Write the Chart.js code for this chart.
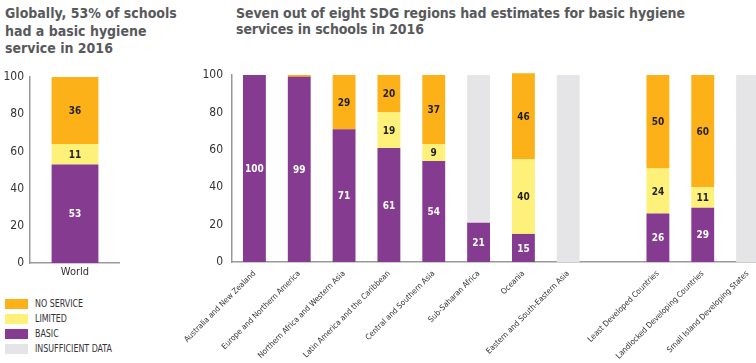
<!DOCTYPE html>
<html lang="en">
<head>
<meta charset="UTF-8">
<title>Basic hygiene services in schools, 2016</title>
<script src="https://cdn.jsdelivr.net/npm/chart.js"></script>
<style>
    html, body {
        margin: 0;
        padding: 0;
        background: #fff;
        overflow: hidden;
        width: 756px;
        height: 363px;
    }
    body {
        position: relative;
        font-family: 'DejaVu Sans Condensed', 'Liberation Sans Narrow', sans-serif;
    }
    .titulo {
        position: absolute;
        color: #58595b;
        font-weight: 700;
        font-size: 14px;
        margin: 0;
        white-space: nowrap;
    }
    #tituloEsq { left: 5px; top: 5px; line-height: 17.5px; }
    #tituloDir { left: 236px; top: 5px; line-height: 16px; letter-spacing: -0.1px; }
    .box { position: absolute; }
    #boxMundo { left: 0; top: 60px; width: 120px; height: 225px; }
    #boxRegioes { left: 180px; top: 58px; width: 590px; height: 305px; }
    .legenda {
        position: absolute;
        left: 5px;
        top: 296px;
        font-size: 11px;
        color: #333;
    }
    .legenda div { height: 15px; display: flex; align-items: center; white-space: nowrap; }
    .legenda span.cor { width: 23px; height: 10px; margin-right: 7px; display: inline-block; }
    .legenda span.txt { display: inline-block; transform: scaleX(0.8); transform-origin: left center; }
</style>
</head>
<body>
<h2 class="titulo" id="tituloEsq">Globally, 53% of schools<br>had a basic hygiene<br>service in 2016</h2>
<h2 class="titulo" id="tituloDir">Seven out of eight SDG regions had estimates for basic hygiene<br>services in schools in 2016</h2>

<div class="box" id="boxMundo"><canvas id="graficoMundo"></canvas></div>
<div class="box" id="boxRegioes"><canvas id="graficoRegioes"></canvas></div>
<div class="legenda" id="legenda"></div>

<script>
    const FONTE = "'DejaVu Sans Condensed', 'Liberation Sans Narrow', sans-serif";

    // series names and colours
    const series = ['NO SERVICE', 'LIMITED', 'BASIC', 'INSUFFICIENT DATA'];
    const cores = ['#fbb117', '#fdf17a', '#843b90', '#e5e5e7'];

    // world
    const mundoLabels = ['World'];
    const mundoBasic = [53];
    const mundoLimited = [11];
    const mundoNoService = [36];

    // regions ('' is the gap between regions and country groups)
    const regioes = [
        'Australia and New Zealand', 'Europe and Northern America', 'Northern Africa and Western Asia',
        'Latin America and the Caribbean', 'Central and Southern Asia', 'Sub-Saharan Africa', 'Oceania',
        'Eastern and South-Eastern Asia', '', 'Least Developed Countries', 'Landlocked Developing Countries',
        'Small Island Developing States'
    ];
    const basic = [100, 99, 71, 61, 54, 21, 15, null, null, 26, 29, null];
    const limited = [null, null, null, 19, 9, null, 40, null, null, 24, 11, null];
    const noService = [null, 1, 29, 20, 37, null, 46, null, null, 50, 60, null];
    const insuficiente = [null, null, null, null, null, 79, null, 100, null, null, null, 100];

    const yTicks = [0, 20, 40, 60, 80, 100];

    // writes values in the middle of each segment
    const rotulosPlugin = {
        id: 'rotulos',
        afterDatasetsDraw(chart) {
            const ctx = chart.ctx;
            ctx.save();
            ctx.font = "bold 10px " + FONTE;
            ctx.textAlign = 'center';
            ctx.textBaseline = 'middle';
            chart.data.datasets.forEach((ds, i) => {
                if (ds.semRotulo) return;
                const meta = chart.getDatasetMeta(i);
                meta.data.forEach((bar, j) => {
                    const v = ds.data[j];
                    if (v == null || v < 5) return;
                    const p = bar.getProps(['x', 'y', 'base'], true);
                    ctx.fillStyle = ds.corTexto;
                    ctx.fillText(String(v), p.x, (p.y + p.base) / 2 + 1);
                });
            });
            ctx.restore();
        }
    };

    function montarDatasets(b, l, n, ins) {
        const arr = [
            { label: 'BASIC', data: b, backgroundColor: cores[2], corTexto: '#ffffff' },
            { label: 'LIMITED', data: l, backgroundColor: cores[1], corTexto: '#231f20' },
            { label: 'NO SERVICE', data: n, backgroundColor: cores[0], corTexto: '#231f20' }
        ];
        if (ins) arr.push({ label: 'INSUFFICIENT DATA', data: ins, backgroundColor: cores[3], semRotulo: true });
        arr.forEach(d => { d.borderWidth = 0; d.clip = false; });
        return arr;
    }

    function criarGrafico(id, labels, datasets, cfg) {
        return new Chart(document.getElementById(id), {
            type: 'bar',
            data: { labels: labels, datasets: datasets },
            options: {
                responsive: true,
                maintainAspectRatio: false,
                animation: false,
                categoryPercentage: cfg.catPct,
                barPercentage: 1,
                layout: { padding: { top: 17, right: 0, left: 0, bottom: 0 } },
                plugins: { legend: { display: false }, tooltip: { enabled: false } },
                scales: {
                    x: {
                        stacked: true,
                        grid: { display: false, drawTicks: false },
                        border: { color: '#999', width: 1.5 },
                        ticks: {
                            autoSkip: false,
                            maxRotation: cfg.rot, minRotation: cfg.rot,
                            color: '#333',
                            padding: cfg.xPad,
                            font: { family: FONTE, size: cfg.xFont }
                        },
                        afterFit(scale) {
                            scale.height = cfg.xAltura;
                            scale.paddingLeft = 0;
                            scale.paddingRight = 0;
                        }
                    },
                    y: {
                        stacked: true,
                        min: 0, max: 100,
                        grid: { display: false, drawTicks: false },
                        border: { color: '#999', width: 1.5 },
                        afterBuildTicks(scale) { scale.ticks = yTicks.map(v => ({ value: v })); },
                        ticks: { color: '#333', padding: cfg.yPad, font: { family: FONTE, size: 12 } },
                        afterFit(scale) { scale.width = cfg.yLargura; }
                    }
                }
            },
            plugins: [rotulosPlugin]
        });
    }

    criarGrafico('graficoMundo', mundoLabels, montarDatasets(mundoBasic, mundoLimited, mundoNoService), {
        catPct: 0.52, rot: 0, xPad: 3, xFont: 11, xAltura: 22, yPad: 6, yLargura: 30
    });
    criarGrafico('graficoRegioes', regioes, montarDatasets(basic, limited, noService, insuficiente), {
        catPct: 0.51, rot: 45, xPad: 7, xFont: 8, xAltura: 101, yPad: 9, yLargura: 52
    });

    // legend
    const leg = document.getElementById('legenda');
    series.forEach((s, i) => {
        const d = document.createElement('div');
        d.innerHTML = '<span class="cor" style="background:' + cores[i] + '"></span><span class="txt">' + s + '</span>';
        leg.appendChild(d);
    });
</script>
</body>
</html>
